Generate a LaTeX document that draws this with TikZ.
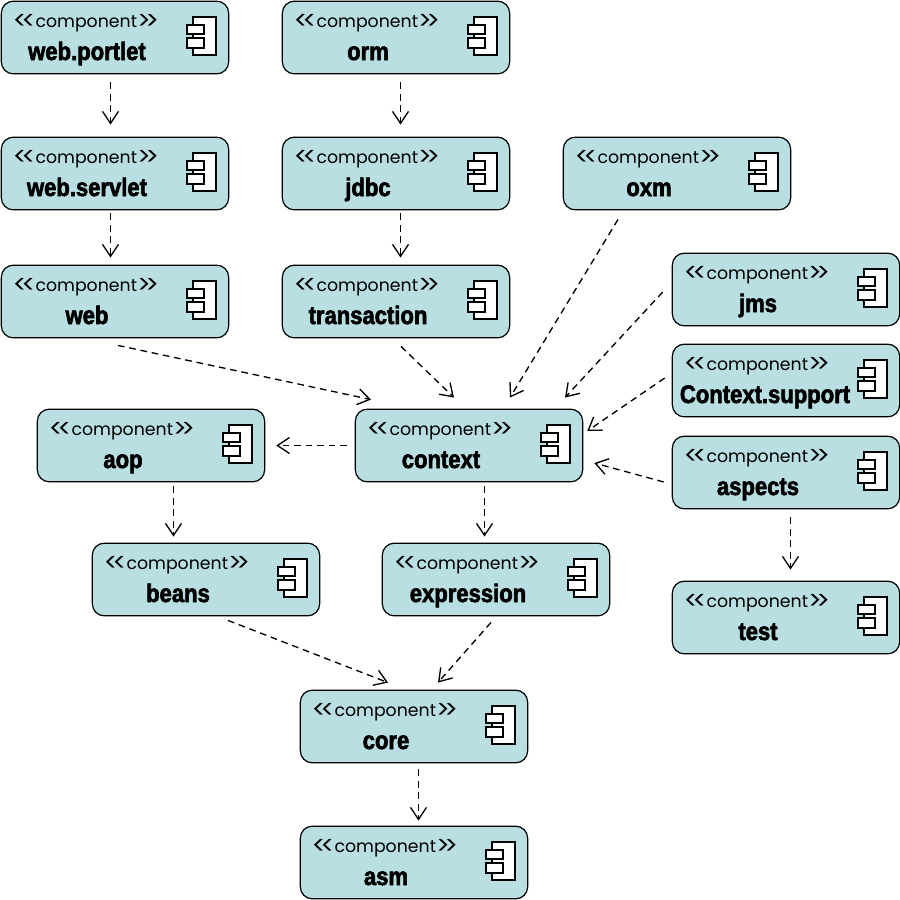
\documentclass[tikz,border=0pt]{standalone}
\usepackage{fontspec}
\setmainfont{Liberation Sans}
\newfontfamily\stereofont{Poppins}
\newfontfamily\titlefont[FakeStretch=0.87,FakeBold=2.4]{Liberation Sans Bold}
\usetikzlibrary{arrows.meta}
\definecolor{compfill}{HTML}{B9DFE2}
\newcommand{\chevtxt}[1]{{\fontsize{19}{19}\selectfont\raisebox{-1.2pt}{#1\kern-4pt#1}}}
\tikzset{
  compbox/.style={draw=black, fill=compfill, line width=0.9pt, rounded corners=9pt,
    minimum width=170.5pt, minimum height=54.5pt, inner sep=0pt},
  stereotxt/.style={anchor=base west, inner sep=0pt, font=\stereofont\fontsize{13}{14}\selectfont},
  titletxt/.style={anchor=base, inner sep=0pt, font=\titlefont\fontsize{19}{20}\selectfont},
  iconbox/.style={draw=black, fill=white, line width=0.9pt},
  dep/.style={draw=black, line width=1pt, dash pattern=on 5pt off 3.6pt,
    -{Straight Barb[length=9pt,width=12pt,line width=1pt]}},
}

\begin{document}
\begin{tikzpicture}[x=0.75pt,y=-0.75pt]
\useasboundingbox (0,0) rectangle (900,900);

% Components
\foreach \id/\cx/\cy/\txt/\off in {
  webportlet/115/37.5/web.portlet/-28,
  orm/396/37.5/orm/-28,
  webservlet/115/173.5/web.servlet/-28,
  jdbc/396/173.5/jdbc/-28,
  oxm/677/173.5/oxm/-28,
  web/115/301.5/web/-28,
  transaction/396/301.5/transaction/-28,
  jms/786/289.5/jms/-28,
  ctxsupport/786/380.5/Context.support/-21,
  aspects/786/472.5/aspects/-28,
  context/469/445.5/context/-28,
  aop/151/445.5/aop/-28,
  beans/206/579.5/beans/-28,
  expression/496/579.5/expression/-28,
  test/786/617.5/test/-28,
  core/414/726.5/core/-28,
  asm/414/862.5/asm/-28}
{
  \node[compbox] (\id) at (\cx,\cy) {};
  \begin{scope}[shift={(\id.center)}]
    \node[stereotxt] (\id-st) at (-102.5,-10) {\chevtxt{<}component\chevtxt{>}};
    \node[titletxt] (\id-tl) at (\off,22.5) {\txt};
    \draw[iconbox] (78,-20.5) rectangle (101,17.5);
    \draw[iconbox] (72,-12.5) rectangle (89,-3.5);
    \draw[iconbox] (72,0.5) rectangle (89,10.5);
  \end{scope}
}

% Dependencies
\draw[dep] ([shift={(-4.5,8)}]webportlet.south) -- ([shift={(-4.5,-12)}]webservlet.north);
\draw[dep] ([shift={(-4.5,3)}]webservlet.south) -- ([shift={(-4.5,-7)}]web.north);
\draw[dep] ([shift={(4.5,8)}]orm.south) -- ([shift={(4.5,-12)}]jdbc.north);
\draw[dep] ([shift={(4.5,3)}]jdbc.south) -- ([shift={(4.5,-7)}]transaction.north);
\draw[dep] ([shift={(5,8)}]transaction.south) -- ([shift={(-15,-11)}]context.north);
\draw[dep] ([shift={(3,7)}]web.south) -- ([shift={(-98,-9)}]context.north);
\draw[dep] ([shift={(-59,9)}]oxm.south) -- ([shift={(41,-11)}]context.north);
\draw[dep] ([shift={(-9,2.5)}]jms.west) -- ([shift={(96,-11)}]context.north);
\draw[dep] ([shift={(-7,-2.5)}]ctxsupport.west) -- ([shift={(4,-14.5)}]context.east);
\draw[dep] ([shift={(-8,9.5)}]aspects.west) -- ([shift={(11,17.5)}]context.east);
\draw[dep] ([shift={(-8,0)}]context.west) -- ([shift={(11,0)}]aop.east);
\draw[dep] ([shift={(22.5,4)}]aop.south) -- ([shift={(-32.5,-6)}]beans.north);
\draw[dep] ([shift={(15.5,4)}]context.south) -- ([shift={(-11.5,-6)}]expression.north);
\draw[dep] ([shift={(22,4)}]beans.south) -- ([shift={(-26,-7)}]core.north);
\draw[dep] ([shift={(-5,6)}]expression.south) -- ([shift={(24,-7)}]core.north);
\draw[dep] ([shift={(4.5,8)}]aspects.south) -- ([shift={(4.5,-11)}]test.north);
\draw[dep] ([shift={(4.5,6)}]core.south) -- ([shift={(4.5,-5)}]asm.north);
\end{tikzpicture}
\end{document}
